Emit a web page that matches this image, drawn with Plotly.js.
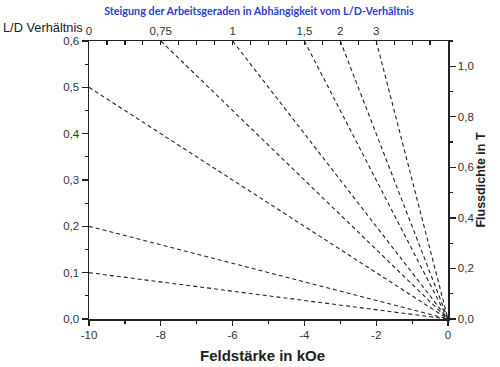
<!DOCTYPE html>
<html>
<head>
<meta charset="utf-8">
<script src="https://cdn.plot.ly/plotly-3.0.1.min.js"></script>
<style>html,body{margin:0;padding:0;background:#fff}#chart{width:500px;height:367px}</style>
</head>
<body>
<div id="chart"></div>
<script>
// Line end points (x in kOe, y on L/D axis); every line goes to the origin
var endX = [-10, -10, -10, -8, -6, -4, -3, -2];
var endY = [0.1, 0.2, 0.5, 0.6, 0.6, 0.6, 0.6, 0.6];
// Bottom axis ticks
var bottomTickVals = [-10, -8, -6, -4, -2, 0];
var bottomTickText = ['-10', '-8', '-6', '-4', '-2', '0'];
// Top axis (L/D ratio) labels
var topTickVals = [-10, -8, -6, -4, -3, -2];
var topTickText = ['0', '0,75', '1', '1,5', '2', '3'];

var traces = [];
for (var i = 0; i < endX.length; i++) {
  traces.push({
    x: [endX[i], 0], y: [endY[i], 0],
    mode: 'lines', type: 'scatter', showlegend: false, hoverinfo: 'skip',
    line: {color: '#222', width: 1.1, dash: '4px,3px'}
  });
}
// dummy traces to activate secondary axes
traces.push({x: [-10], y: [0], xaxis: 'x2', yaxis: 'y', mode: 'markers', marker: {opacity: 0}, showlegend: false, hoverinfo: 'skip'});
traces.push({x: [-10], y: [0], xaxis: 'x', yaxis: 'y2', mode: 'markers', marker: {opacity: 0}, showlegend: false, hoverinfo: 'skip'});

var tickFont = {family: 'Liberation Sans, Arial, sans-serif', size: 11.5, color: '#333'};
var layout = {
  width: 500, height: 367,
  margin: {l: 89, r: 52, t: 41, b: 48},
  paper_bgcolor: '#fff', plot_bgcolor: '#fff',
  separators: ', ',
  showlegend: false,
  title: {text: 'Steigung der Arbeitsgeraden in Abhängigkeit vom L/D-Verhältnis',
    font: {family: 'Lato, sans-serif', size: 10.8, color: '#2b3fd6', weight: 'bold'},
    x: 0.518, xanchor: 'center', y: 0.97, yanchor: 'middle', yref: 'container'},
  xaxis: {
    range: [-10, 0], showgrid: false, zeroline: false,
    showline: true, linecolor: '#222', linewidth: 1.5,
    tickmode: 'array', tickvals: bottomTickVals, ticktext: bottomTickText,
    ticks: 'outside', ticklen: 5, tickcolor: '#222', tickwidth: 1.2,
    minor: {tickmode: 'linear', tick0: -10, dtick: 1, ticks: 'outside', ticklen: 3, tickcolor: '#222'},
    tickfont: tickFont
  },
  xaxis2: {
    range: [-10, 0], overlaying: 'x', side: 'top', anchor: 'y',
    showgrid: false, zeroline: false,
    showline: true, linecolor: '#222', linewidth: 1.5,
    tickmode: 'array', tickvals: topTickVals, ticktext: topTickText,
    ticks: 'inside', ticklen: 4, tickcolor: '#222', tickwidth: 1.2,
    minor: {tickmode: 'linear', tick0: -10, dtick: 0.5, ticks: 'inside', ticklen: 4, tickcolor: '#222'},
    tickfont: tickFont
  },
  yaxis: {
    range: [0, 0.6], showgrid: false, zeroline: false,
    showline: true, linecolor: '#222', linewidth: 1.5,
    dtick: 0.1, tickformat: '.1f',
    ticks: 'outside', ticklen: 6, tickcolor: '#222', tickwidth: 1.2,
    minor: {dtick: 0.05, ticks: 'outside', ticklen: 3, tickcolor: '#222'},
    tickfont: tickFont
  },
  yaxis2: {
    range: [0, 1.1], overlaying: 'y', side: 'right', anchor: 'x',
    showgrid: false, zeroline: false,
    showline: true, linecolor: '#222', linewidth: 1.5,
    dtick: 0.2, tickformat: '.1f',
    ticks: 'outside', ticklen: 6, tickcolor: '#222', tickwidth: 1.2,
    minor: {dtick: 0.1, ticks: 'outside', ticklen: 3, tickcolor: '#222'},
    tickfont: tickFont,
    title: {text: 'Flussdichte in T', standoff: 1,
      font: {family: 'Liberation Sans, Arial, sans-serif', size: 12.5, color: '#222', weight: 'bold'}}
  },
  annotations: [
    {text: 'L/D Verhältnis', xref: 'paper', yref: 'paper', x: -0.012, y: 1.05,
     xanchor: 'right', yanchor: 'middle', showarrow: false,
     font: {family: 'Liberation Sans, Arial, sans-serif', size: 12.8, color: '#222'}},
    {text: 'Feldstärke in kOe', xref: 'paper', yref: 'paper', x: 0.483, y: -0.13,
     xanchor: 'center', yanchor: 'middle', showarrow: false,
     font: {family: 'Liberation Sans, Arial, sans-serif', size: 15, color: '#222', weight: 'bold'}}
  ]
};
Plotly.newPlot('chart', traces, layout, {staticPlot: true});
</script>
</body>
</html>
